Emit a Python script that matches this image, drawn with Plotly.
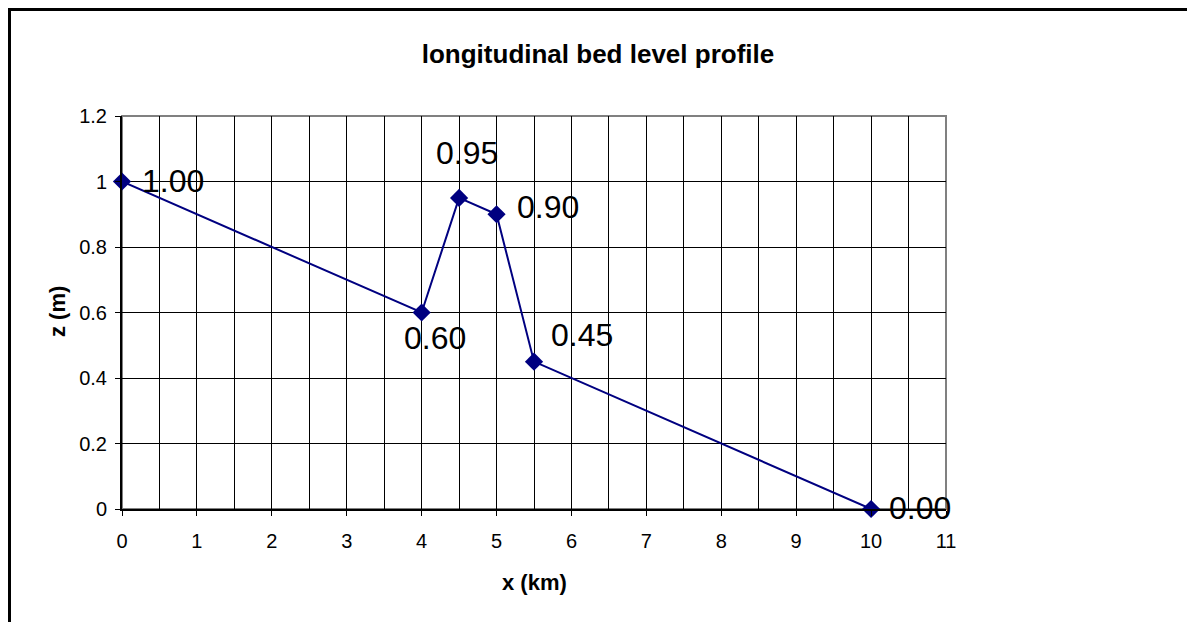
import plotly.graph_objects as go

x_km = [0, 4, 4.5, 5, 5.5, 10]
z_m = [1.00, 0.60, 0.95, 0.90, 0.45, 0.00]
labels = [f"{v:.2f}" for v in z_m]

# label placement (style): anchor and pixel shifts relative to each point
label_anchor = ["left", "center", "center", "left", "center", "left"]
label_dx = [18, 13, 8, 18, 48, 16]
label_dy = [1, -25, 45, 7, 27, 1]

FONT = "Liberation Sans, Arial, sans-serif"
NAVY = "#000080"

fig = go.Figure()
fig.add_trace(go.Scatter(
    x=x_km, y=z_m, mode="lines+markers",
    line=dict(color=NAVY, width=2),
    marker=dict(symbol="diamond", size=14, color=NAVY),
    cliponaxis=False, showlegend=False, hoverinfo="x+y",
))

for xv, zv, txt, anc, dx, dy in zip(x_km, z_m, labels, label_anchor, label_dx, label_dy):
    fig.add_annotation(x=xv, y=zv, text=txt, showarrow=False,
                       xanchor=anc, yanchor="middle", xshift=dx, yshift=dy,
                       font=dict(family=FONT, size=32, color="black"))

OFF = 8  # browser body margin
W, H = 1195 - OFF, 622 - OFF
L, T = 122 - OFF, 116 - OFF
pw, ph = 824, 393
R, B = W - L - pw, H - T - ph

def px(v):
    return (v - OFF - L) / pw

def py(v):
    return (T + ph - (v - OFF)) / ph

# outer frame
fig.add_shape(type="rect", xref="paper", yref="paper",
              x0=px(9.5), x1=px(1215), y0=py(640), y1=py(9.5),
              line=dict(color="black", width=3), layer="above")
# plot area border (grey top/right)
fig.add_shape(type="rect", xref="paper", yref="paper",
              x0=0, x1=1, y0=0, y1=1,
              line=dict(color="#808080", width=2), layer="below")

# axis titles
fig.add_annotation(x=px(534), y=py(582), xref="paper", yref="paper",
                   text="<b>x (km)</b>", showarrow=False, xanchor="center", yanchor="middle",
                   font=dict(family=FONT, size=22, color="black"))
fig.add_annotation(x=px(57), y=py(312), xref="paper", yref="paper",
                   text="<b>z (m)</b>", showarrow=False, xanchor="center", yanchor="middle",
                   textangle=-90, font=dict(family=FONT, size=22, color="black"))

fig.update_layout(
    width=W, height=H,
    margin=dict(l=L, r=R, t=T, b=B),
    paper_bgcolor="white", plot_bgcolor="white",
    font=dict(family=FONT, color="black"),
    title=dict(text="<b>longitudinal bed level profile</b>", x=(598 - OFF) / W, xref="container",
               xanchor="center", y=1 - (54 - OFF) / H, yanchor="middle",
               font=dict(family=FONT, size=26, color="black")),
    xaxis=dict(range=[0, 11], dtick=1, tick0=0, showgrid=True, gridcolor="black", gridwidth=1,
               minor=dict(dtick=0.5, showgrid=True, gridcolor="black", gridwidth=1),
               ticks="outside", ticklen=5, tickcolor="black", ticklabelstandoff=8,
               showline=True, linecolor="black", linewidth=2, zeroline=False,
               tickfont=dict(family=FONT, size=20, color="black")),
    yaxis=dict(range=[0, 1.2], dtick=0.2, tick0=0, showgrid=True, gridcolor="black", gridwidth=1,
               ticks="outside", ticklen=5, tickcolor="black", ticklabelstandoff=4,
               showline=True, linecolor="black", linewidth=2, zeroline=False,
               tickfont=dict(family=FONT, size=20, color="black")),
)

fig.write_html("out.html")
